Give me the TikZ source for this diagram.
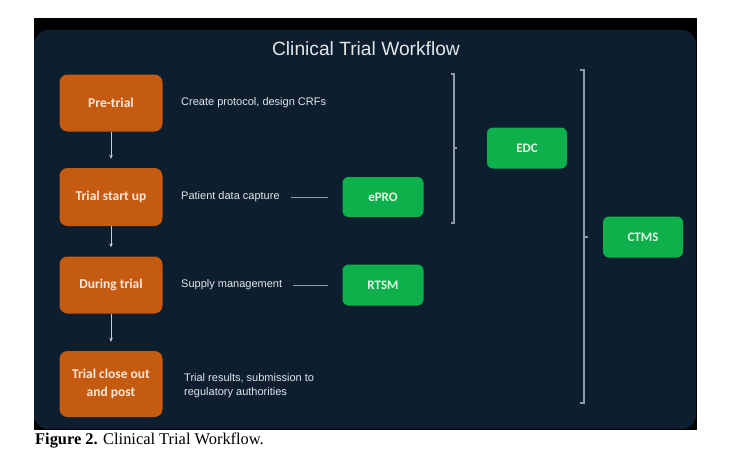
\documentclass[tikz,border=0pt]{standalone}
\usepackage{fontspec}
\setmainfont{Liberation Sans}
\newfontfamily\labfont{Carlito}
\newfontfamily\capfont{Liberation Serif}
\usetikzlibrary{arrows.meta}
\definecolor{panelbg}{HTML}{0D1F2F}
\definecolor{stageor}{HTML}{C55A11}
\definecolor{sysgreen}{HTML}{0DB04B}
\definecolor{stagetxt}{HTML}{FCE8D8}
\definecolor{systxt}{HTML}{E4F4E6}
\definecolor{desctxt}{HTML}{E2E6EA}
\definecolor{linegray}{HTML}{8E9AAB}
\definecolor{arrgray}{HTML}{C9CFD6}
\tikzset{
  stagebox/.style={draw=none, fill=stageor, rounded corners=8pt, minimum width=103pt, text=stagetxt, font=\labfont\bfseries\fontsize{13.5}{18}\selectfont, align=center, inner sep=0pt},
  sysbox/.style={draw=none, fill=sysgreen, rounded corners=6pt, minimum width=81pt, minimum height=41pt, text=systxt, font=\labfont\bfseries\fontsize{13}{15}\selectfont, inner sep=0pt},
  desc/.style={anchor=west, inner sep=0pt, text=desctxt, font=\fontsize{11}{14}\selectfont, align=left},
  flowarrow/.style={draw=arrgray, line width=0.8pt, -{Stealth[length=4pt,width=3.5pt]}, shorten >=9pt},
  tieline/.style={draw=linegray, line width=0.9pt},
  bracketline/.style={draw=linegray, line width=1.1pt}
}
\begin{document}
\begin{tikzpicture}[x=1pt,y=-1pt]
\useasboundingbox (0,0) rectangle (745,455);
\fill[white] (0,0) rectangle (745,455);
\fill[black] (34,18) rectangle (697,430);
\fill[panelbg, rounded corners=14pt] (34,30) rectangle (696,429);

\node[text=desctxt, font=\fontsize{19.2}{21}\selectfont] (title) at (366,49) {Clinical Trial Workflow};

% stages
\node[stagebox, minimum height=57pt] (pre) at (111,103) {Pre-trial};
\node[stagebox, minimum height=58pt] (start) at (111,197) {Trial start up};
\node[stagebox, minimum height=57pt] (during) at (111,285) {During trial};
\node[stagebox, minimum height=66pt] (close) at (111,384) {Trial close out\\and post};

\draw[flowarrow] (pre.south) -- (start.north);
\draw[flowarrow] (start.south) -- (during.north);
\draw[flowarrow] (during.south) -- (close.north);

% descriptions
\node[desc] (d1) at (181,103) {Create protocol, design CRFs};
\node[desc] (d2) at (181,197) {Patient data capture};
\node[desc] (d3) at (181,285) {Supply management};
\node[desc] (d4) at (184,386) {Trial results, submission to\\regulatory authorities};

% systems
\node[sysbox, minimum height=40pt] (epro) at (383,197) {ePRO};
\node[sysbox] (rtsm) at (383,285) {RTSM};
\node[sysbox, minimum width=80pt] (edc) at (527,148) {EDC};
\node[sysbox, minimum width=80pt] (ctms) at (643,237) {CTMS};

\draw[tieline, shorten <=11pt, shorten >=14pt] (d2.east) -- (epro.west);
\draw[tieline, shorten <=11pt, shorten >=14pt] (d3.east) -- (rtsm.west);

% brackets
\draw[bracketline] (451,74) -- (454,74) -- (454,223) -- (451,223);
\draw[bracketline] (454,148) -- (457,148);
\draw[bracketline] (580,70) -- (584,70) -- (584,403) -- (580,403);
\draw[bracketline] (584,237) -- (588,237);

% caption
\node[anchor=west, inner sep=0pt, text=black, font=\capfont\fontsize{16.4}{18}\selectfont] (cap) at (35,441) {\textbf{Figure 2.} Clinical Trial Workflow.};
\end{tikzpicture}
\end{document}
